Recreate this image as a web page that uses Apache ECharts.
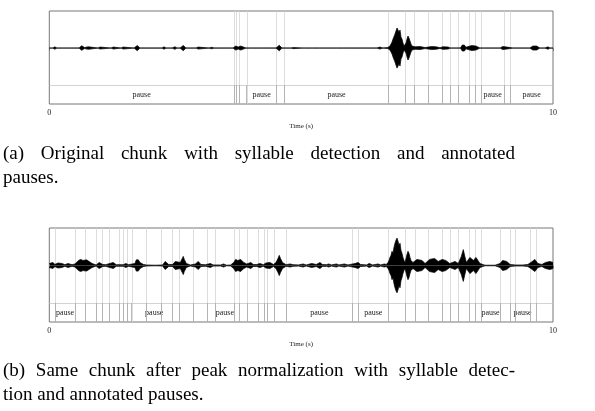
<!DOCTYPE html>
<html><head><meta charset="utf-8">
<script src="https://cdn.jsdelivr.net/npm/echarts@6/dist/echarts.min.js"></script>
<style>html,body{margin:0;padding:0;background:#fff}#c{width:595px;height:411px}</style>
</head><body><div id="c"></div>
<script>
// ---------- DATA ----------
// Envelope of the waveform (time s, half-amplitude, normalized)
const envA = [
[0,0],[0.07,0],[0.11,0.032],[0.15,0],[0.19,0],[0.226,0.027],[0.26,0],[0.31,0],[0.345,0.022],[0.38,0],
[0.45,0],[0.476,0.019],[0.51,0],[0.59,0],[0.643,0.062],[0.70,0.014],[0.73,0],[0.774,0.035],[0.81,0],
[0.967,0],[1.007,0.027],[1.046,0],[1.225,0],[1.271,0.027],[1.304,0],[1.423,0],[1.469,0.027],[1.503,0],
[1.682,0],[1.747,0.070],[1.80,0],[2.237,0],[2.277,0.032],[2.317,0],[2.436,0],[2.495,0.035],[2.535,0],
[2.595,0],[2.66,0.070],[2.714,0],[2.912,0],[2.958,0.027],[2.992,0],[3.171,0],[3.224,0.022],[3.27,0],
[3.47,0],[3.508,0.016],[3.548,0],[3.647,0],[3.70,0.054],[3.75,0.027],[3.80,0.054],[3.865,0.022],[3.905,0],
[4.00,0],[4.018,0.022],[4.04,0],[4.16,0],[4.183,0.022],[4.21,0],[4.36,0],[4.381,0.022],[4.40,0],
[4.50,0],[4.566,0.076],[4.62,0],[4.76,0],[4.779,0.022],[4.80,0],[4.82,0],[4.844,0.016],[4.87,0],
[5.02,0],[5.043,0.022],[5.07,0],[5.19,0],[5.209,0.022],[5.23,0],[5.36,0],[5.374,0.022],[5.40,0],
[5.51,0],[5.533,0.019],[5.56,0],[5.65,0],[5.672,0.019],[5.70,0],[5.85,0],[5.87,0.019],[5.89,0],
[6.19,0],[6.208,0.022],[6.23,0],[6.506,0],[6.56,0.027],[6.625,0],
[6.718,0.014],[6.764,0.054],[6.784,0.108],[6.804,0.162],[6.824,0.243],[6.843,0.216],[6.863,0.378],[6.883,0.459],
[6.903,0.541],[6.923,0.568],[6.943,0.432],[6.963,0.486],[6.982,0.297],[7.002,0.243],[7.022,0.135],[7.042,0.054],
[7.062,0.027],[7.082,0.135],[7.102,0.243],[7.121,0.324],[7.141,0.27],[7.161,0.189],[7.181,0.108],[7.201,0.054],
[7.221,0.027],[7.26,0.032],[7.36,0.041],[7.46,0.014],
[7.59,0.041],[7.68,0.032],[7.756,0.011],[7.816,0.035],[7.92,0.027],[7.96,0],
[8.16,0],[8.20,0.081],[8.219,0.108],[8.24,0.081],[8.27,0.022],[8.386,0.068],[8.47,0.054],[8.55,0],
[8.95,0],[9.0,0.041],[9.05,0.032],[9.15,0.014],[9.2,0],
[9.54,0],[9.60,0.054],[9.676,0.054],[9.74,0],[9.84,0],[9.90,0.032],[9.94,0],[10,0]
];
const envB = [
[0,0.054],[0.014,0.081],[0.073,0.081],[0.113,0.027],[0.17,0.068],[0.25,0.054],[0.31,0.022],[0.37,0.054],
[0.451,0.022],[0.51,0.041],[0.58,0.135],[0.62,0.162],[0.643,0.176],[0.67,0.135],[0.70,0.108],[0.74,0.150],[0.774,0.135],[0.85,0.054],[0.93,0.014],
[0.99,0.081],[1.06,0.027],[1.12,0.022],[1.27,0.081],[1.33,0.022],[1.47,0.022],[1.52,0.054],[1.57,0.022],
[1.70,0.054],[1.727,0.150],[1.747,0.203],[1.767,0.150],[1.80,0.081],[1.87,0.027],[1.93,0.014],[2.1,0.008],[2.25,0.014],[2.30,0.108],
[2.37,0.027],[2.45,0.027],[2.50,0.108],[2.60,0.081],[2.64,0.189],[2.66,0.243],[2.68,0.162],[2.72,0.054],[2.80,0.014],[2.90,0.041],
[2.958,0.108],[3.01,0.027],[3.10,0.022],[3.20,0.054],[3.25,0.016],[3.40,0.014],[3.46,0.041],[3.52,0.008],
[3.60,0.014],[3.66,0.081],[3.70,0.162],[3.72,0.189],[3.74,0.135],[3.77,0.135],[3.80,0.162],[3.86,0.081],[3.92,0.041],[4.0,0.081],
[4.05,0.027],[4.12,0.027],[4.18,0.054],[4.25,0.022],[4.30,0.068],[4.38,0.081],[4.45,0.027],[4.50,0.081],
[4.54,0.189],[4.566,0.27],[4.59,0.189],[4.63,0.081],[4.70,0.022],[4.78,0.041],[4.84,0.022],[4.95,0.016],[5.04,0.041],[5.10,0.014],
[5.21,0.054],[5.30,0.027],[5.374,0.081],[5.42,0.027],[5.50,0.022],[5.55,0.041],[5.60,0.016],[5.70,0.041],
[5.75,0.016],[5.86,0.041],[5.93,0.016],[6.07,0.054],[6.13,0.081],[6.18,0.027],[6.30,0.016],[6.35,0.054],
[6.42,0.016],[6.53,0.041],[6.58,0.016],[6.65,0.041],[6.69,0.027],
[6.724,0.081],[6.744,0.135],[6.764,0.216],[6.784,0.27],[6.804,0.378],[6.824,0.324],[6.843,0.486],[6.863,0.595],
[6.883,0.676],[6.903,0.73],[6.923,0.649],[6.943,0.541],[6.963,0.595],[6.982,0.405],[7.002,0.324],[7.022,0.216],
[7.042,0.135],[7.062,0.081],[7.082,0.189],[7.102,0.297],[7.121,0.378],[7.141,0.324],[7.161,0.216],[7.181,0.135],
[7.22,0.081],[7.30,0.162],[7.40,0.135],
[7.46,0.054],[7.55,0.162],[7.65,0.189],[7.72,0.108],[7.80,0.162],[7.87,0.135],[7.95,0.054],[8.055,0.108],
[8.12,0.054],[8.18,0.243],[8.219,0.424],[8.25,0.243],[8.28,0.081],[8.35,0.216],[8.42,0.135],[8.47,0.216],[8.55,0.054],[8.65,0.008],
[8.85,0.008],[8.95,0.054],[9.0,0.135],[9.08,0.108],[9.15,0.027],[9.25,0.014],[9.40,0.014],[9.50,0.027],
[9.56,0.081],[9.64,0.162],[9.70,0.054],[9.78,0.027],[9.85,0.081],[9.94,0.108],[10,0.081]
];
// syllable boundaries (s)
const boundsA = [3.667,3.720,3.772,3.919,4.511,4.669,6.734,7.058,7.250,7.524,7.806,7.955,8.120,8.338,8.451,8.570,9.033,9.152];
const boundsB = [0.113,0.510,0.709,0.937,1.060,1.191,1.388,1.469,1.549,1.636,1.934,2.231,2.450,2.581,2.859,3.131,3.300,3.673,3.776,3.925,4.149,4.266,4.322,4.471,4.699,6.023,6.135,6.730,7.062,7.260,7.524,7.810,7.955,8.120,8.338,8.451,8.570,8.948,9.160,9.246,9.543,9.662];
// annotated pauses [start, end] (s)
const pausesA = [[0,3.667],[3.919,4.511],[4.669,6.734],[8.570,9.033],[9.152,10]];
const pausesB = [[0.113,0.510],[1.934,2.231],[3.300,3.673],[4.699,6.023],[6.135,6.730],[8.570,8.948],[9.246,9.543]];
const xTicks = [0, 10];
const axisName = 'Time (s)';
const pauseLabel = 'pause';
const captionA = ['(a) Original chunk with syllable detection and annotated', 'pauses.'];
const captionB = ['(b) Same chunk after peak normalization with syllable detec-', 'tion and annotated pauses.'];

// ---------- CHART ----------
const chart = echarts.init(document.getElementById('c'), null, {renderer: 'canvas'});
const SERIF = 'Liberation Serif';
const TIER = -1;     // tier boundary on the y scale

function panel(i, env, bounds, pauses, ymin) {
  const upper = env.map(p => [p[0], p[1]]);
  const lower = env.map(p => [p[0], -p[1]]);
  const wave = (d, extra) => Object.assign({
    type: 'line', xAxisIndex: i, yAxisIndex: i, data: d, symbol: 'none', silent: true,
    lineStyle: {color: '#000', width: 0.7}, areaStyle: {color: '#000', opacity: 1, origin: 0},
    z: 5, animation: false
  }, extra || {});
  return [
    wave(upper, {
      markLine: {
        silent: true, symbol: 'none', animation: false,
        label: {show: false},
        data: bounds.map(b => ({xAxis: b, lineStyle: {color: '#d4d4d4', width: 0.8, type: 'solid'}}))
          .concat([{yAxis: TIER, lineStyle: {color: '#c8c8c8', width: 0.8, type: 'solid'}}])
          .concat(bounds.map(b => [{coord: [b, ymin], lineStyle: {color: '#a8a8a8', width: 0.8, type: 'solid'}}, {coord: [b, TIER]}]))
      },
      markArea: {
        silent: true, animation: false,
        itemStyle: {color: 'rgba(0,0,0,0)'},
        label: {show: true, position: 'inside', formatter: pauseLabel, fontFamily: SERIF, fontSize: 8, color: '#222'},
        data: pauses.map(p => [{xAxis: p[0], yAxis: ymin}, {xAxis: p[1], yAxis: TIER}])
      }
    }),
    wave(lower)
  ];
}

const grids = [
  {left: 49.3, top: 11, width: 503.7, height: 93, ymin: -1.51},
  {left: 49.3, top: 228, width: 503.7, height: 94, ymin: -1.507}
];
const option = {
  animation: false,
  backgroundColor: '#fff',
  grid: grids.map(g => ({show: true, borderColor: '#777', borderWidth: 1, backgroundColor: 'transparent',
    left: g.left, top: g.top, width: g.width, height: g.height})),
  xAxis: grids.map((g, i) => ({
    gridIndex: i, type: 'value', min: xTicks[0], max: xTicks[1], interval: xTicks[1] - xTicks[0],
    axisLine: {show: false}, splitLine: {show: false},
    axisTick: {show: true, length: 3, lineStyle: {color: '#777'}},
    axisLabel: {fontFamily: SERIF, fontSize: 8, color: '#222', margin: 5},
    name: axisName, nameLocation: 'middle', nameGap: 19,
    nameTextStyle: {fontFamily: SERIF, fontSize: 7, color: '#222'}
  })),
  yAxis: grids.map((g, i) => ({gridIndex: i, type: 'value', min: g.ymin, max: 1, show: false})),
  series: [].concat(panel(0, envA, boundsA, pausesA, grids[0].ymin), panel(1, envB, boundsB, pausesB, grids[1].ymin))
};
chart.setOption(option);

// captions, justified like the source document
const ctx = document.createElement('canvas').getContext('2d');
const CAP_FS = 19;
ctx.font = CAP_FS + 'px "' + SERIF + '"';
function lineEls(text, y, justify, x0, x1) {
  const words = text.split(' ');
  const widths = words.map(w => ctx.measureText(w).width);
  const total = widths.reduce((a, b) => a + b, 0);
  const gap = justify ? (x1 - x0 - total) / (words.length - 1) : ctx.measureText(' ').width;
  let x = x0;
  return words.map((w, k) => {
    const el = {type: 'text', left: x, top: y, style: {text: w, font: CAP_FS + 'px "' + SERIF + '"', fill: '#000'}, silent: true};
    x += widths[k] + gap;
    return el;
  });
}
chart.setOption({graphic: [].concat(
  lineEls(captionA[0], 145, true, 3, 515),
  lineEls(captionA[1], 169, false, 3, 515),
  lineEls(captionB[0], 362, true, 3, 515),
  lineEls(captionB[1], 386, false, 3, 515)
)});
</script></body></html>
